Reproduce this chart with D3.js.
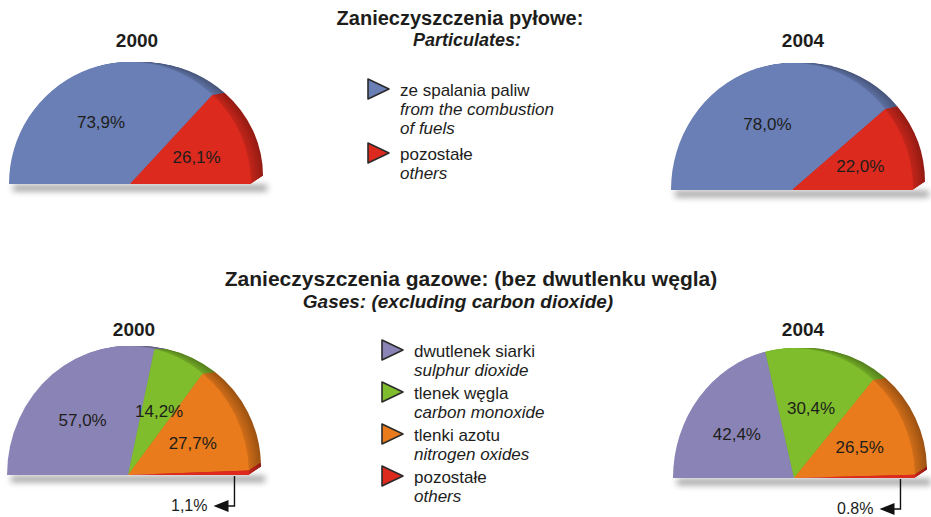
<!DOCTYPE html>
<html>
<head>
<meta charset="utf-8">
<script src="https://cdn.jsdelivr.net/npm/d3@7"></script>
<style>
  body { margin: 0; background: #fff; }
  svg { font-family: "Liberation Sans", Arial, sans-serif; }
</style>
</head>
<body>
<svg id="chart" width="931" height="517"></svg>
<script>
// Values (percent shares)
const years = ["2000", "2004"];

const partNamesPL = ["ze spalania paliw", "pozostałe"];
const partNamesEN = [["from the combustion", "of fuels"], ["others"]];
const partColors = ["#6a7fb6", "#dc2a1e"];
const part2000 = [73.9, 26.1];
const part2004 = [78.0, 22.0];
const partLabels2000 = ["73,9%", "26,1%"];
const partLabels2004 = ["78,0%", "22,0%"];

const gasNamesPL = ["dwutlenek siarki", "tlenek węgla", "tlenki azotu", "pozostałe"];
const gasNamesEN = [["sulphur dioxide"], ["carbon monoxide"], ["nitrogen oxides"], ["others"]];
const gasColors = ["#8a84b6", "#7fbd2c", "#e97b1c", "#dc2a1e"];
const gas2000 = [57.0, 14.2, 27.7, 1.1];
const gas2004 = [42.4, 30.4, 26.5, 0.8];
const gasLabels2000 = ["57,0%", "14,2%", "27,7%", "1,1%"];
const gasLabels2004 = ["42,4%", "30,4%", "26,5%", "0.8%"];

const svg = d3.select("#chart");
const textColor = "#1d1d1b";

// blur filter for the shadow under each half pie
svg.append("defs")
  .append("filter")
  .attr("id", "shadowBlur")
  .attr("x", "-20%").attr("y", "-200%")
  .attr("width", "140%").attr("height", "500%")
  .append("feGaussianBlur")
  .attr("stdDeviation", 3);

// Half pie laid out from left (-90deg) over the top to right (+90deg)
const pie = d3.pie().sort(null).startAngle(-Math.PI / 2).endAngle(Math.PI / 2);
const arc = d3.arc().innerRadius(0).outerRadius(100);

function drawHalfPie(opt) {
  const { cx, cy, rx, ry, values, colors, labels, year } = opt;
  const arcs = pie(values);
  const g = svg.append("g");
  const depthX = 12, depthY = 8, steps = 12; // extrusion of the 3D rim

  // shadow under the flat edge
  g.append("rect")
    .attr("x", cx - rx + 4)
    .attr("y", cy + 1)
    .attr("width", 2 * rx + depthX)
    .attr("height", 6)
    .attr("fill", "#7a7a7a")
    .attr("opacity", 0.75)
    .attr("filter", "url(#shadowBlur)");

  // rim: copies of the slices swept from the back face to the front
  for (let i = steps; i >= 1; i--) {
    const t = i / steps;
    g.append("g")
      .attr("transform", `translate(${cx + depthX * t},${cy - depthY * t}) scale(${rx / 100},${(ry - depthY * t) / 100})`)
      .selectAll("path")
      .data(arcs)
      .join("path")
      .attr("d", arc)
      .attr("fill", (d, j) => d3.interpolateRgb(d3.color(colors[j]).darker(0.3), d3.color(colors[j]).darker(1.1))(t));
  }

  // front face
  g.append("g")
    .attr("transform", `translate(${cx},${cy}) scale(${rx / 100},${ry / 100})`)
    .selectAll("path")
    .data(arcs)
    .join("path")
    .attr("d", arc)
    .attr("fill", (d, j) => colors[j]);

  // percent labels: inside for big slices, leader line for tiny ones
  arcs.forEach((d, j) => {
    if (d.data >= 5) {
      const mid = (d.startAngle + d.endAngle) / 2;
      g.append("text")
        .attr("x", cx + 0.6 * rx * Math.sin(mid))
        .attr("y", cy - 0.55 * ry * Math.cos(mid))
        .attr("dy", "0.35em")
        .attr("text-anchor", "middle")
        .attr("font-size", 17)
        .attr("fill", textColor)
        .text(labels[j]);
    } else {
      const lx = cx + 0.88 * rx;
      const ly = cy + 31;
      g.append("path")
        .attr("d", `M${lx},${cy + 1}V${ly}H${lx - 8}`)
        .attr("fill", "none")
        .attr("stroke", "#111")
        .attr("stroke-width", 1.4);
      g.append("path")
        .attr("d", `M${lx - 6},${ly - 6}L${lx - 6},${ly + 6}L${lx - 21},${ly}Z`)
        .attr("fill", "#111");
      g.append("text")
        .attr("x", lx - 27)
        .attr("y", ly + 5)
        .attr("text-anchor", "end")
        .attr("font-size", 16)
        .attr("fill", textColor)
        .text(labels[j]);
    }
  });

  // year title
  svg.append("text")
    .attr("x", opt.titleX)
    .attr("y", opt.titleY)
    .attr("text-anchor", "middle")
    .attr("font-size", 19)
    .attr("font-weight", "bold")
    .attr("fill", textColor)
    .text(year);
}

function drawLegend(x, y, names, namesEN, colors, step) {
  const g = svg.append("g");
  let yy = y;
  names.forEach((name, i) => {
    g.append("path")
      .attr("d", `M${x},${yy - 17}L${x + 21},${yy - 7}L${x},${yy + 3}Z`)
      .attr("fill", colors[i])
      .attr("stroke", "#2b2b2b")
      .attr("stroke-width", 1.6)
      .attr("stroke-linejoin", "round");
    g.append("text")
      .attr("x", x + 32)
      .attr("y", yy)
      .attr("font-size", 17)
      .attr("fill", textColor)
      .text(name);
    namesEN[i].forEach((line, k) => {
      g.append("text")
        .attr("x", x + 32)
        .attr("y", yy + 19 * (k + 1))
        .attr("font-size", 17)
        .attr("font-style", "italic")
        .attr("fill", textColor)
        .text(line);
    });
    yy += 19 * (namesEN[i].length + 1) + step;
  });
}

// two-line title: bold Polish line, bold italic English line
function drawTitle(lines, xs, ys, sizes) {
  lines.forEach((line, i) => {
    svg.append("text")
      .attr("x", xs[i])
      .attr("y", ys[i])
      .attr("text-anchor", "middle")
      .attr("font-size", sizes[i])
      .attr("font-weight", "bold")
      .attr("font-style", i === 1 ? "italic" : "normal")
      .attr("fill", textColor)
      .text(line);
  });
}

// Particulates
drawTitle(["Zanieczyszczenia pyłowe:", "Particulates:"], [460, 467], [25, 46], [20, 18]);
drawHalfPie({ cx: 130, cy: 184, rx: 121, ry: 122, values: part2000, colors: partColors,
  labels: partLabels2000, year: years[0], titleX: 137, titleY: 47 });
drawHalfPie({ cx: 792, cy: 190, rx: 121, ry: 127, values: part2004, colors: partColors,
  labels: partLabels2004, year: years[1], titleX: 803, titleY: 47 });
drawLegend(368, 96, partNamesPL, partNamesEN, partColors, 7);

// Gases
drawTitle(["Zanieczyszczenia gazowe: (bez dwutlenku węgla)", "Gases: (excluding carbon dioxide)"],
  [471, 458], [286, 308], [21, 19]);
drawHalfPie({ cx: 128, cy: 475, rx: 121, ry: 129, values: gas2000, colors: gasColors,
  labels: gasLabels2000, year: years[0], titleX: 134, titleY: 336 });
drawHalfPie({ cx: 794, cy: 478, rx: 121, ry: 130, values: gas2004, colors: gasColors,
  labels: gasLabels2004, year: years[1], titleX: 803, titleY: 336 });
drawLegend(382, 357, gasNamesPL, gasNamesEN, gasColors, 4);
</script>
</body>
</html>
